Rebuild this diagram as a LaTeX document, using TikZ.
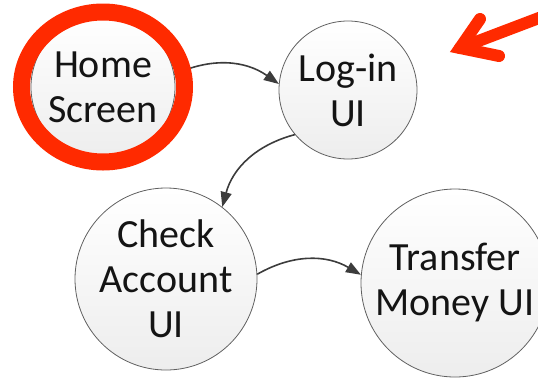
\documentclass[tikz,border=0pt]{standalone}
\usepackage{fontspec}
\setmainfont{Carlito}
\usetikzlibrary{arrows.meta}
\definecolor{ink}{HTML}{141414}
\definecolor{rim}{HTML}{606060}
\definecolor{wire}{HTML}{3C3C3C}
\definecolor{alarm}{HTML}{FF2A00}
\tikzset{
  uinode/.style={circle, draw=rim, line width=0.8pt, top color=white, bottom color=gray!14, inner sep=0pt, align=center, text=ink, font=\fontsize{40}{45}\selectfont},
}

\begin{document}
\begin{tikzpicture}[x=1pt, y=-1pt,
  flow/.style={-{Triangle[length=15pt, width=11pt]}, wire, line width=1.6pt},
  hilite/.style={alarm, line width=17pt},
  pointer/.style={alarm, line width=12pt, line cap=round, line join=miter, miter limit=10}]
\useasboundingbox (0,0) rectangle (538,381);
\clip (0,0) rectangle (538,381);
\node[uinode, minimum size=144pt] (home) at (103,87) {Home\\Screen};
\node[uinode, minimum size=138pt] (login) at (348,90) {Log-in\\UI};
\node[uinode, minimum size=182pt] (check) at (166,279) {Check\\Account\\UI};
\node[uinode, minimum size=188pt] (xfer) at (455,283) {Transfer\\Money UI};
\draw[flow] (home.10) to[bend left=30] (login.175);
\draw[flow] (login.220) to[bend right=30] (check.52);
\draw[flow] (check.3) to[bend left=30] (xfer.175);
\draw[hilite] (home.center) ellipse [x radius=81.5pt, y radius=75pt];
\draw[pointer] (480,19) -- (460,48) -- (499,56);
\draw[pointer] (460,48) -- (560,10);
\end{tikzpicture}
\end{document}
